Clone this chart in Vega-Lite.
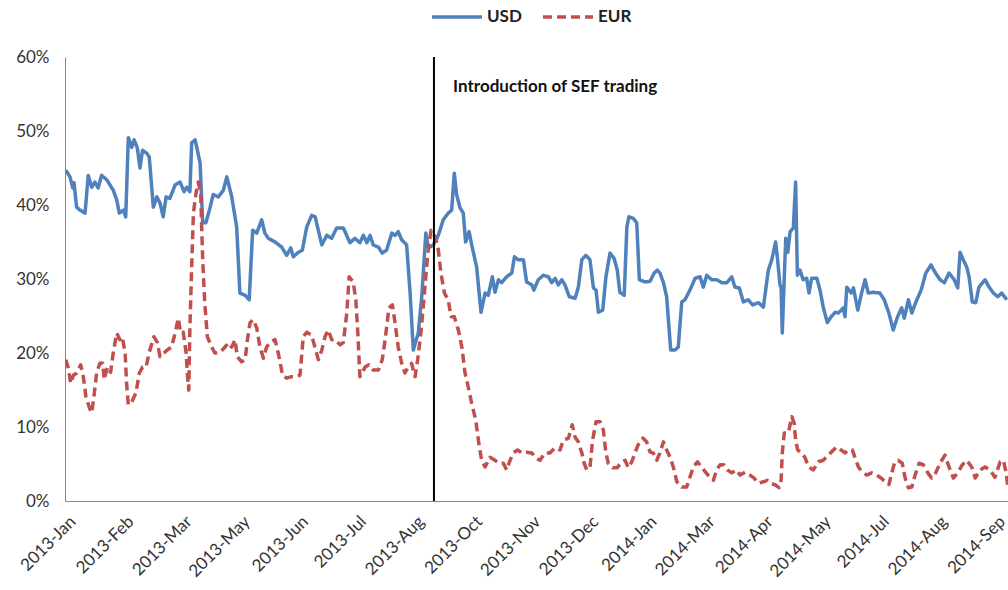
{
  "$schema": "https://vega.github.io/schema/vega-lite/v6.json",
  "width": 943,
  "height": 444,
  "autosize": {"type": "none"},
  "padding": {"left": 65, "top": 57, "right": 0, "bottom": 89},
  "background": "white",
  "config": {
    "view": {"stroke": null},
    "font": "Lato",
    "axis": {"grid": false, "ticks": false, "domainColor": "#868686", "domainWidth": 1, "labelColor": "#333333", "labelFont": "Lato", "labelFontSize": 17, "title": null}
  },
  "layer": [
    {
      "data": {"values": [
        {"s":"USD","t":0.3,"v":44.7},{"s":"USD","t":1.7,"v":43.8},{"s":"USD","t":2.7,"v":42.3},{"s":"USD","t":3.1,"v":43.0},{"s":"USD","t":4.0,"v":39.7},{"s":"USD","t":5.2,"v":39.3},{"s":"USD","t":6.9,"v":38.9},{"s":"USD","t":8.0,"v":44.0},{"s":"USD","t":9.2,"v":42.4},{"s":"USD","t":10.3,"v":43.1},{"s":"USD","t":11.4,"v":42.3},{"s":"USD","t":12.6,"v":44.0},{"s":"USD","t":14.4,"v":43.4},{"s":"USD","t":16.6,"v":42.0},{"s":"USD","t":17.8,"v":40.7},{"s":"USD","t":18.7,"v":38.9},{"s":"USD","t":20.1,"v":39.3},{"s":"USD","t":20.9,"v":38.4},{"s":"USD","t":21.8,"v":49.1},{"s":"USD","t":23.0,"v":47.8},{"s":"USD","t":23.8,"v":48.8},{"s":"USD","t":24.9,"v":47.7},{"s":"USD","t":25.8,"v":45.0},{"s":"USD","t":26.7,"v":47.4},{"s":"USD","t":28.1,"v":47.0},{"s":"USD","t":29.0,"v":46.5},{"s":"USD","t":30.4,"v":39.7},{"s":"USD","t":31.6,"v":41.1},{"s":"USD","t":32.7,"v":40.3},{"s":"USD","t":33.8,"v":38.4},{"s":"USD","t":34.8,"v":41.1},{"s":"USD","t":36.1,"v":40.9},{"s":"USD","t":37.9,"v":42.7},{"s":"USD","t":39.6,"v":43.1},{"s":"USD","t":41.0,"v":41.8},{"s":"USD","t":41.9,"v":42.4},{"s":"USD","t":43.0,"v":41.8},{"s":"USD","t":43.6,"v":48.4},{"s":"USD","t":44.8,"v":48.8},{"s":"USD","t":46.5,"v":45.7},{"s":"USD","t":47.4,"v":37.6},{"s":"USD","t":48.5,"v":37.6},{"s":"USD","t":49.9,"v":39.6},{"s":"USD","t":51.0,"v":41.4},{"s":"USD","t":52.8,"v":41.1},{"s":"USD","t":54.5,"v":42.0},{"s":"USD","t":55.7,"v":43.8},{"s":"USD","t":57.4,"v":41.1},{"s":"USD","t":59.1,"v":37.0},{"s":"USD","t":60.2,"v":28.1},{"s":"USD","t":62.0,"v":27.8},{"s":"USD","t":63.4,"v":27.2},{"s":"USD","t":64.6,"v":36.6},{"s":"USD","t":66.0,"v":36.2},{"s":"USD","t":67.7,"v":38.0},{"s":"USD","t":68.8,"v":36.2},{"s":"USD","t":70.0,"v":35.5},{"s":"USD","t":72.3,"v":35.0},{"s":"USD","t":74.6,"v":34.3},{"s":"USD","t":76.3,"v":33.2},{"s":"USD","t":77.7,"v":34.2},{"s":"USD","t":78.6,"v":33.0},{"s":"USD","t":80.3,"v":33.6},{"s":"USD","t":81.7,"v":33.9},{"s":"USD","t":83.2,"v":37.0},{"s":"USD","t":84.9,"v":38.6},{"s":"USD","t":86.1,"v":38.4},{"s":"USD","t":88.4,"v":34.6},{"s":"USD","t":90.1,"v":35.9},{"s":"USD","t":91.8,"v":35.5},{"s":"USD","t":93.5,"v":36.9},{"s":"USD","t":95.8,"v":36.9},{"s":"USD","t":98.1,"v":34.9},{"s":"USD","t":99.8,"v":35.5},{"s":"USD","t":101.5,"v":34.9},{"s":"USD","t":102.7,"v":35.9},{"s":"USD","t":103.9,"v":34.9},{"s":"USD","t":105.0,"v":35.9},{"s":"USD","t":106.1,"v":34.6},{"s":"USD","t":107.9,"v":34.3},{"s":"USD","t":109.2,"v":33.5},{"s":"USD","t":110.7,"v":33.9},{"s":"USD","t":112.5,"v":36.2},{"s":"USD","t":113.6,"v":35.9},{"s":"USD","t":114.7,"v":36.4},{"s":"USD","t":115.9,"v":35.3},{"s":"USD","t":117.6,"v":34.6},{"s":"USD","t":118.8,"v":28.1},{"s":"USD","t":119.9,"v":20.4},{"s":"USD","t":121.6,"v":22.7},{"s":"USD","t":122.8,"v":27.6},{"s":"USD","t":124.2,"v":36.2},{"s":"USD","t":125.1,"v":34.2},{"s":"USD","t":126.8,"v":34.6},{"s":"USD","t":128.5,"v":35.9},{"s":"USD","t":130.2,"v":38.0},{"s":"USD","t":131.9,"v":38.9},{"s":"USD","t":133.1,"v":39.3},{"s":"USD","t":134.0,"v":44.3},{"s":"USD","t":134.8,"v":41.4},{"s":"USD","t":136.0,"v":39.6},{"s":"USD","t":137.1,"v":38.9},{"s":"USD","t":137.9,"v":35.0},{"s":"USD","t":139.1,"v":36.4},{"s":"USD","t":140.0,"v":34.6},{"s":"USD","t":141.7,"v":31.6},{"s":"USD","t":143.2,"v":25.5},{"s":"USD","t":144.6,"v":28.1},{"s":"USD","t":145.7,"v":27.8},{"s":"USD","t":147.1,"v":30.3},{"s":"USD","t":148.0,"v":28.2},{"s":"USD","t":149.2,"v":29.9},{"s":"USD","t":150.3,"v":29.5},{"s":"USD","t":152.0,"v":30.3},{"s":"USD","t":153.8,"v":30.8},{"s":"USD","t":154.7,"v":33.0},{"s":"USD","t":156.0,"v":32.6},{"s":"USD","t":157.8,"v":32.6},{"s":"USD","t":158.9,"v":29.6},{"s":"USD","t":160.7,"v":29.2},{"s":"USD","t":161.4,"v":28.5},{"s":"USD","t":162.9,"v":29.9},{"s":"USD","t":164.6,"v":30.5},{"s":"USD","t":166.4,"v":30.3},{"s":"USD","t":167.5,"v":29.5},{"s":"USD","t":168.7,"v":30.1},{"s":"USD","t":169.8,"v":29.2},{"s":"USD","t":171.0,"v":29.9},{"s":"USD","t":172.1,"v":29.2},{"s":"USD","t":173.6,"v":27.6},{"s":"USD","t":175.6,"v":27.4},{"s":"USD","t":176.7,"v":28.9},{"s":"USD","t":177.9,"v":32.6},{"s":"USD","t":179.3,"v":33.2},{"s":"USD","t":180.7,"v":32.6},{"s":"USD","t":181.9,"v":28.8},{"s":"USD","t":182.8,"v":28.5},{"s":"USD","t":183.6,"v":25.5},{"s":"USD","t":185.1,"v":25.8},{"s":"USD","t":186.2,"v":30.3},{"s":"USD","t":187.6,"v":33.5},{"s":"USD","t":189.0,"v":32.8},{"s":"USD","t":190.1,"v":31.2},{"s":"USD","t":191.0,"v":28.2},{"s":"USD","t":192.5,"v":27.8},{"s":"USD","t":193.4,"v":37.0},{"s":"USD","t":194.1,"v":38.4},{"s":"USD","t":195.6,"v":38.2},{"s":"USD","t":196.8,"v":37.6},{"s":"USD","t":197.7,"v":29.9},{"s":"USD","t":199.7,"v":29.6},{"s":"USD","t":201.4,"v":29.7},{"s":"USD","t":202.8,"v":30.8},{"s":"USD","t":203.9,"v":31.2},{"s":"USD","t":204.8,"v":30.8},{"s":"USD","t":206.0,"v":29.5},{"s":"USD","t":207.1,"v":27.6},{"s":"USD","t":208.5,"v":20.4},{"s":"USD","t":210.0,"v":20.4},{"s":"USD","t":211.1,"v":20.8},{"s":"USD","t":212.3,"v":26.9},{"s":"USD","t":213.4,"v":27.2},{"s":"USD","t":215.1,"v":28.5},{"s":"USD","t":216.9,"v":30.1},{"s":"USD","t":218.6,"v":30.3},{"s":"USD","t":219.7,"v":28.9},{"s":"USD","t":220.9,"v":30.5},{"s":"USD","t":222.6,"v":29.9},{"s":"USD","t":224.3,"v":29.9},{"s":"USD","t":226.1,"v":29.5},{"s":"USD","t":227.8,"v":29.5},{"s":"USD","t":229.5,"v":30.3},{"s":"USD","t":230.6,"v":28.9},{"s":"USD","t":232.1,"v":28.8},{"s":"USD","t":233.5,"v":26.9},{"s":"USD","t":235.2,"v":27.2},{"s":"USD","t":236.7,"v":26.5},{"s":"USD","t":238.7,"v":26.8},{"s":"USD","t":240.4,"v":26.2},{"s":"USD","t":242.1,"v":31.2},{"s":"USD","t":243.3,"v":32.6},{"s":"USD","t":244.6,"v":35.0},{"s":"USD","t":245.3,"v":32.6},{"s":"USD","t":246.1,"v":29.2},{"s":"USD","t":246.5,"v":28.9},{"s":"USD","t":246.9,"v":22.7},{"s":"USD","t":247.6,"v":30.3},{"s":"USD","t":248.1,"v":35.5},{"s":"USD","t":248.8,"v":33.6},{"s":"USD","t":249.6,"v":36.4},{"s":"USD","t":250.7,"v":36.9},{"s":"USD","t":251.5,"v":43.1},{"s":"USD","t":252.1,"v":30.5},{"s":"USD","t":253.0,"v":31.2},{"s":"USD","t":254.1,"v":29.9},{"s":"USD","t":255.3,"v":30.1},{"s":"USD","t":256.1,"v":28.1},{"s":"USD","t":257.0,"v":30.1},{"s":"USD","t":258.8,"v":30.1},{"s":"USD","t":259.9,"v":28.5},{"s":"USD","t":261.0,"v":26.2},{"s":"USD","t":262.4,"v":24.1},{"s":"USD","t":263.7,"v":24.9},{"s":"USD","t":265.1,"v":25.5},{"s":"USD","t":266.2,"v":25.4},{"s":"USD","t":267.9,"v":26.1},{"s":"USD","t":268.5,"v":24.9},{"s":"USD","t":269.1,"v":28.9},{"s":"USD","t":270.6,"v":28.1},{"s":"USD","t":271.4,"v":28.8},{"s":"USD","t":272.9,"v":25.8},{"s":"USD","t":274.2,"v":28.1},{"s":"USD","t":275.4,"v":29.9},{"s":"USD","t":276.5,"v":28.1},{"s":"USD","t":278.2,"v":28.2},{"s":"USD","t":280.5,"v":28.1},{"s":"USD","t":282.0,"v":27.2},{"s":"USD","t":283.6,"v":25.4},{"s":"USD","t":285.1,"v":23.1},{"s":"USD","t":286.6,"v":24.9},{"s":"USD","t":288.0,"v":26.1},{"s":"USD","t":288.9,"v":24.7},{"s":"USD","t":290.3,"v":27.2},{"s":"USD","t":291.5,"v":25.4},{"s":"USD","t":292.8,"v":26.8},{"s":"USD","t":294.7,"v":28.5},{"s":"USD","t":296.3,"v":30.8},{"s":"USD","t":298.1,"v":31.9},{"s":"USD","t":299.5,"v":30.9},{"s":"USD","t":301.2,"v":29.9},{"s":"USD","t":302.7,"v":29.5},{"s":"USD","t":304.3,"v":30.8},{"s":"USD","t":306.1,"v":29.9},{"s":"USD","t":307.3,"v":28.8},{"s":"USD","t":308.1,"v":33.6},{"s":"USD","t":309.2,"v":32.6},{"s":"USD","t":310.4,"v":31.6},{"s":"USD","t":311.2,"v":30.3},{"s":"USD","t":312.3,"v":26.9},{"s":"USD","t":313.5,"v":26.8},{"s":"USD","t":314.6,"v":28.9},{"s":"USD","t":316.7,"v":29.9},{"s":"USD","t":318.1,"v":28.9},{"s":"USD","t":319.6,"v":28.1},{"s":"USD","t":321.1,"v":27.6},{"s":"USD","t":322.4,"v":28.1},{"s":"USD","t":324.2,"v":27.2},
        {"s":"EUR","t":0.3,"v":19.1},{"s":"EUR","t":1.1,"v":18.0},{"s":"EUR","t":2.0,"v":15.9},{"s":"EUR","t":2.9,"v":17.0},{"s":"EUR","t":4.0,"v":17.3},{"s":"EUR","t":5.4,"v":18.4},{"s":"EUR","t":6.3,"v":16.8},{"s":"EUR","t":7.2,"v":14.1},{"s":"EUR","t":8.4,"v":12.6},{"s":"EUR","t":9.2,"v":11.9},{"s":"EUR","t":10.1,"v":14.6},{"s":"EUR","t":10.9,"v":17.3},{"s":"EUR","t":12.0,"v":18.6},{"s":"EUR","t":13.0,"v":18.6},{"s":"EUR","t":13.5,"v":16.4},{"s":"EUR","t":14.6,"v":18.1},{"s":"EUR","t":15.7,"v":17.4},{"s":"EUR","t":16.6,"v":20.0},{"s":"EUR","t":17.8,"v":22.7},{"s":"EUR","t":18.9,"v":21.8},{"s":"EUR","t":19.7,"v":22.2},{"s":"EUR","t":20.7,"v":20.0},{"s":"EUR","t":21.2,"v":15.9},{"s":"EUR","t":21.8,"v":13.0},{"s":"EUR","t":23.0,"v":13.4},{"s":"EUR","t":24.4,"v":14.6},{"s":"EUR","t":25.6,"v":17.3},{"s":"EUR","t":26.7,"v":18.1},{"s":"EUR","t":27.9,"v":18.1},{"s":"EUR","t":29.0,"v":20.1},{"s":"EUR","t":30.6,"v":22.2},{"s":"EUR","t":31.8,"v":21.4},{"s":"EUR","t":32.7,"v":19.5},{"s":"EUR","t":34.1,"v":20.0},{"s":"EUR","t":35.2,"v":20.4},{"s":"EUR","t":36.7,"v":20.8},{"s":"EUR","t":37.9,"v":22.7},{"s":"EUR","t":39.0,"v":24.7},{"s":"EUR","t":39.8,"v":22.7},{"s":"EUR","t":40.7,"v":22.8},{"s":"EUR","t":41.7,"v":20.0},{"s":"EUR","t":42.1,"v":17.3},{"s":"EUR","t":42.6,"v":15.0},{"s":"EUR","t":43.0,"v":23.5},{"s":"EUR","t":43.6,"v":31.6},{"s":"EUR","t":44.2,"v":38.9},{"s":"EUR","t":45.1,"v":41.6},{"s":"EUR","t":45.9,"v":43.1},{"s":"EUR","t":46.7,"v":41.6},{"s":"EUR","t":47.4,"v":32.6},{"s":"EUR","t":48.1,"v":26.8},{"s":"EUR","t":49.0,"v":22.2},{"s":"EUR","t":50.5,"v":20.8},{"s":"EUR","t":51.6,"v":20.0},{"s":"EUR","t":53.4,"v":20.1},{"s":"EUR","t":55.1,"v":20.8},{"s":"EUR","t":56.2,"v":21.4},{"s":"EUR","t":57.4,"v":20.8},{"s":"EUR","t":58.5,"v":21.8},{"s":"EUR","t":59.3,"v":19.5},{"s":"EUR","t":60.8,"v":18.8},{"s":"EUR","t":62.0,"v":19.1},{"s":"EUR","t":62.8,"v":21.8},{"s":"EUR","t":63.7,"v":24.1},{"s":"EUR","t":64.8,"v":24.5},{"s":"EUR","t":66.0,"v":23.4},{"s":"EUR","t":67.1,"v":20.8},{"s":"EUR","t":68.3,"v":19.3},{"s":"EUR","t":69.4,"v":20.8},{"s":"EUR","t":70.8,"v":21.5},{"s":"EUR","t":72.3,"v":21.8},{"s":"EUR","t":73.4,"v":20.0},{"s":"EUR","t":74.9,"v":17.0},{"s":"EUR","t":76.3,"v":16.6},{"s":"EUR","t":78.0,"v":16.8},{"s":"EUR","t":79.8,"v":16.8},{"s":"EUR","t":80.9,"v":17.0},{"s":"EUR","t":82.0,"v":22.2},{"s":"EUR","t":83.2,"v":22.8},{"s":"EUR","t":84.9,"v":22.4},{"s":"EUR","t":86.3,"v":20.4},{"s":"EUR","t":87.2,"v":19.1},{"s":"EUR","t":88.4,"v":20.4},{"s":"EUR","t":89.5,"v":22.2},{"s":"EUR","t":90.6,"v":23.1},{"s":"EUR","t":91.8,"v":21.8},{"s":"EUR","t":92.9,"v":21.8},{"s":"EUR","t":94.7,"v":21.1},{"s":"EUR","t":95.8,"v":21.4},{"s":"EUR","t":97.0,"v":25.4},{"s":"EUR","t":97.8,"v":30.3},{"s":"EUR","t":99.2,"v":29.6},{"s":"EUR","t":100.1,"v":27.2},{"s":"EUR","t":100.8,"v":22.7},{"s":"EUR","t":101.5,"v":16.8},{"s":"EUR","t":103.3,"v":18.1},{"s":"EUR","t":104.6,"v":18.4},{"s":"EUR","t":106.1,"v":17.7},{"s":"EUR","t":107.9,"v":17.7},{"s":"EUR","t":109.2,"v":19.1},{"s":"EUR","t":110.2,"v":21.8},{"s":"EUR","t":111.5,"v":26.1},{"s":"EUR","t":112.7,"v":26.5},{"s":"EUR","t":113.6,"v":24.1},{"s":"EUR","t":114.7,"v":20.8},{"s":"EUR","t":115.9,"v":18.6},{"s":"EUR","t":117.0,"v":17.3},{"s":"EUR","t":118.2,"v":18.1},{"s":"EUR","t":119.3,"v":18.6},{"s":"EUR","t":120.5,"v":16.8},{"s":"EUR","t":121.4,"v":19.1},{"s":"EUR","t":122.5,"v":22.7},{"s":"EUR","t":123.3,"v":26.2},{"s":"EUR","t":124.2,"v":30.3},{"s":"EUR","t":124.9,"v":33.5},{"s":"EUR","t":126.0,"v":36.6},{"s":"EUR","t":127.1,"v":35.9},{"s":"EUR","t":128.3,"v":34.6},{"s":"EUR","t":129.4,"v":30.8},{"s":"EUR","t":130.6,"v":28.1},{"s":"EUR","t":131.9,"v":27.2},{"s":"EUR","t":132.9,"v":24.9},{"s":"EUR","t":134.0,"v":24.9},{"s":"EUR","t":135.4,"v":23.1},{"s":"EUR","t":136.6,"v":20.8},{"s":"EUR","t":137.7,"v":17.3},{"s":"EUR","t":138.8,"v":15.4},{"s":"EUR","t":140.0,"v":13.2},{"s":"EUR","t":141.4,"v":10.9},{"s":"EUR","t":142.3,"v":8.2},{"s":"EUR","t":143.4,"v":5.5},{"s":"EUR","t":144.6,"v":4.6},{"s":"EUR","t":146.3,"v":5.9},{"s":"EUR","t":148.0,"v":5.5},{"s":"EUR","t":149.4,"v":5.1},{"s":"EUR","t":150.9,"v":5.1},{"s":"EUR","t":152.0,"v":4.2},{"s":"EUR","t":153.2,"v":5.5},{"s":"EUR","t":154.3,"v":6.5},{"s":"EUR","t":155.8,"v":6.9},{"s":"EUR","t":157.2,"v":6.5},{"s":"EUR","t":158.9,"v":6.6},{"s":"EUR","t":160.7,"v":6.5},{"s":"EUR","t":161.8,"v":5.9},{"s":"EUR","t":163.5,"v":5.5},{"s":"EUR","t":165.2,"v":6.5},{"s":"EUR","t":166.9,"v":6.5},{"s":"EUR","t":168.7,"v":7.2},{"s":"EUR","t":170.4,"v":6.9},{"s":"EUR","t":171.5,"v":8.2},{"s":"EUR","t":173.3,"v":8.5},{"s":"EUR","t":174.6,"v":10.3},{"s":"EUR","t":175.6,"v":8.6},{"s":"EUR","t":176.7,"v":8.0},{"s":"EUR","t":177.9,"v":6.5},{"s":"EUR","t":178.7,"v":5.1},{"s":"EUR","t":179.6,"v":4.2},{"s":"EUR","t":180.7,"v":4.5},{"s":"EUR","t":181.6,"v":8.2},{"s":"EUR","t":182.8,"v":10.7},{"s":"EUR","t":184.2,"v":10.7},{"s":"EUR","t":185.3,"v":9.6},{"s":"EUR","t":186.2,"v":6.5},{"s":"EUR","t":187.0,"v":5.1},{"s":"EUR","t":188.5,"v":4.5},{"s":"EUR","t":190.1,"v":4.5},{"s":"EUR","t":191.6,"v":5.3},{"s":"EUR","t":192.8,"v":5.5},{"s":"EUR","t":193.9,"v":4.5},{"s":"EUR","t":195.1,"v":5.3},{"s":"EUR","t":196.2,"v":6.5},{"s":"EUR","t":197.3,"v":7.6},{"s":"EUR","t":198.9,"v":8.5},{"s":"EUR","t":200.2,"v":8.0},{"s":"EUR","t":201.4,"v":6.6},{"s":"EUR","t":202.5,"v":6.5},{"s":"EUR","t":203.7,"v":5.5},{"s":"EUR","t":204.8,"v":6.5},{"s":"EUR","t":206.0,"v":8.0},{"s":"EUR","t":207.1,"v":6.9},{"s":"EUR","t":208.3,"v":5.9},{"s":"EUR","t":209.4,"v":4.6},{"s":"EUR","t":210.6,"v":2.6},{"s":"EUR","t":212.3,"v":1.9},{"s":"EUR","t":214.0,"v":1.9},{"s":"EUR","t":215.1,"v":3.2},{"s":"EUR","t":216.3,"v":4.6},{"s":"EUR","t":217.7,"v":5.3},{"s":"EUR","t":219.2,"v":4.5},{"s":"EUR","t":220.7,"v":3.8},{"s":"EUR","t":222.0,"v":3.2},{"s":"EUR","t":223.2,"v":2.8},{"s":"EUR","t":224.3,"v":4.2},{"s":"EUR","t":225.5,"v":4.9},{"s":"EUR","t":226.8,"v":4.9},{"s":"EUR","t":228.0,"v":4.2},{"s":"EUR","t":229.5,"v":3.8},{"s":"EUR","t":231.0,"v":4.2},{"s":"EUR","t":232.4,"v":3.5},{"s":"EUR","t":234.1,"v":3.9},{"s":"EUR","t":235.8,"v":3.5},{"s":"EUR","t":237.2,"v":3.1},{"s":"EUR","t":238.7,"v":2.4},{"s":"EUR","t":240.4,"v":2.6},{"s":"EUR","t":241.7,"v":2.8},{"s":"EUR","t":242.7,"v":2.4},{"s":"EUR","t":244.4,"v":2.2},{"s":"EUR","t":245.8,"v":1.8},{"s":"EUR","t":246.5,"v":2.8},{"s":"EUR","t":246.9,"v":6.5},{"s":"EUR","t":247.6,"v":9.2},{"s":"EUR","t":249.0,"v":9.2},{"s":"EUR","t":250.2,"v":11.4},{"s":"EUR","t":251.0,"v":10.5},{"s":"EUR","t":251.5,"v":8.2},{"s":"EUR","t":252.2,"v":6.9},{"s":"EUR","t":253.4,"v":6.5},{"s":"EUR","t":254.7,"v":5.9},{"s":"EUR","t":255.9,"v":4.6},{"s":"EUR","t":257.6,"v":4.2},{"s":"EUR","t":259.3,"v":5.3},{"s":"EUR","t":261.0,"v":5.5},{"s":"EUR","t":262.8,"v":6.2},{"s":"EUR","t":264.5,"v":6.9},{"s":"EUR","t":265.6,"v":7.3},{"s":"EUR","t":267.1,"v":6.9},{"s":"EUR","t":268.5,"v":6.5},{"s":"EUR","t":269.6,"v":6.9},{"s":"EUR","t":271.0,"v":6.9},{"s":"EUR","t":271.9,"v":5.9},{"s":"EUR","t":273.1,"v":4.6},{"s":"EUR","t":274.5,"v":3.9},{"s":"EUR","t":276.0,"v":3.5},{"s":"EUR","t":277.7,"v":3.8},{"s":"EUR","t":279.4,"v":3.5},{"s":"EUR","t":280.9,"v":3.1},{"s":"EUR","t":282.3,"v":2.6},{"s":"EUR","t":283.6,"v":2.2},{"s":"EUR","t":284.6,"v":3.8},{"s":"EUR","t":285.5,"v":5.1},{"s":"EUR","t":286.8,"v":5.5},{"s":"EUR","t":288.2,"v":5.1},{"s":"EUR","t":289.2,"v":3.1},{"s":"EUR","t":290.3,"v":1.8},{"s":"EUR","t":291.5,"v":1.9},{"s":"EUR","t":292.6,"v":3.5},{"s":"EUR","t":294.0,"v":5.1},{"s":"EUR","t":295.4,"v":4.9},{"s":"EUR","t":297.0,"v":3.8},{"s":"EUR","t":298.3,"v":3.1},{"s":"EUR","t":299.7,"v":3.8},{"s":"EUR","t":301.2,"v":5.1},{"s":"EUR","t":302.9,"v":6.2},{"s":"EUR","t":304.3,"v":4.6},{"s":"EUR","t":305.8,"v":3.1},{"s":"EUR","t":307.3,"v":3.8},{"s":"EUR","t":308.9,"v":4.9},{"s":"EUR","t":310.4,"v":5.5},{"s":"EUR","t":312.1,"v":4.6},{"s":"EUR","t":313.3,"v":3.1},{"s":"EUR","t":315.0,"v":4.2},{"s":"EUR","t":316.7,"v":4.6},{"s":"EUR","t":318.4,"v":4.2},{"s":"EUR","t":320.1,"v":3.2},{"s":"EUR","t":321.9,"v":5.3},{"s":"EUR","t":323.0,"v":5.5},{"s":"EUR","t":324.0,"v":3.8},{"s":"EUR","t":324.5,"v":2.0}
      ]},
      "mark": {"type": "line", "strokeWidth": 3.5, "strokeJoin": "round", "clip": true},
      "encoding": {
        "x": {"field": "t", "type": "quantitative",
          "scale": {"domain": [0, 324.6], "nice": false, "zero": false},
          "axis": {"values": [0,20,40,60,80,100,120,140,160,180,200,220,240,260,280,300,320],
            "labelAngle": -45, "labelAlign": "right", "labelBaseline": "top", "labelPadding": 12, "labelOffset": 2, "labelBound": false, "labelOverlap": false, "labelFlush": false,
            "labelExpr": "['2013-Jan','2013-Feb','2013-Mar','2013-May','2013-Jun','2013-Jul','2013-Aug','2013-Oct','2013-Nov','2013-Dec','2014-Jan','2014-Mar','2014-Apr','2014-May','2014-Jul','2014-Aug','2014-Sep'][round(datum.value/20)]"}},
        "y": {"field": "v", "type": "quantitative",
          "scale": {"domain": [0, 60], "nice": false},
          "axis": {"values": [0,10,20,30,40,50,60], "labelPadding": 16, "labelExpr": "datum.value + '%'"}},
        "color": {"field": "s", "type": "nominal",
          "scale": {"domain": ["USD", "EUR"], "range": ["#4F81BD", "#C0504D"]},
          "legend": {"title": null, "orient": "none", "legendX": 365, "legendY": -67, "direction": "horizontal",
            "symbolType": "stroke", "symbolSize": 2500, "symbolStrokeWidth": 3.5, "labelFontSize": 17, "labelFontWeight": "bold", "labelColor": "#222222", "labelFont": "Lato", "columnPadding": 14, "labelOffset": 3}},
        "strokeDash": {"field": "s", "type": "nominal",
          "scale": {"domain": ["USD", "EUR"], "range": [[1, 0], [9, 5]]},
          "legend": {"title": null, "orient": "none", "legendX": 365, "legendY": -67, "direction": "horizontal",
            "symbolType": "stroke", "symbolSize": 2500, "symbolStrokeWidth": 3.5, "labelFontSize": 17, "labelFontWeight": "bold", "labelColor": "#222222", "labelFont": "Lato", "columnPadding": 14, "labelOffset": 3}}
      }
    },
    {
      "data": {"values": [{"t": 127.0}]},
      "mark": {"type": "rule", "color": "black", "strokeWidth": 2},
      "encoding": {"x": {"field": "t", "type": "quantitative"}}
    },
    {
      "data": {"values": [{"t": 133.6, "v": 55.9, "label": "Introduction of SEF trading"}]},
      "mark": {"type": "text", "align": "left", "baseline": "middle", "fontWeight": "bold", "fontSize": 17, "font": "Lato", "color": "#111111"},
      "encoding": {
        "x": {"field": "t", "type": "quantitative"},
        "y": {"field": "v", "type": "quantitative"},
        "text": {"field": "label"}
      }
    }
  ]
}
